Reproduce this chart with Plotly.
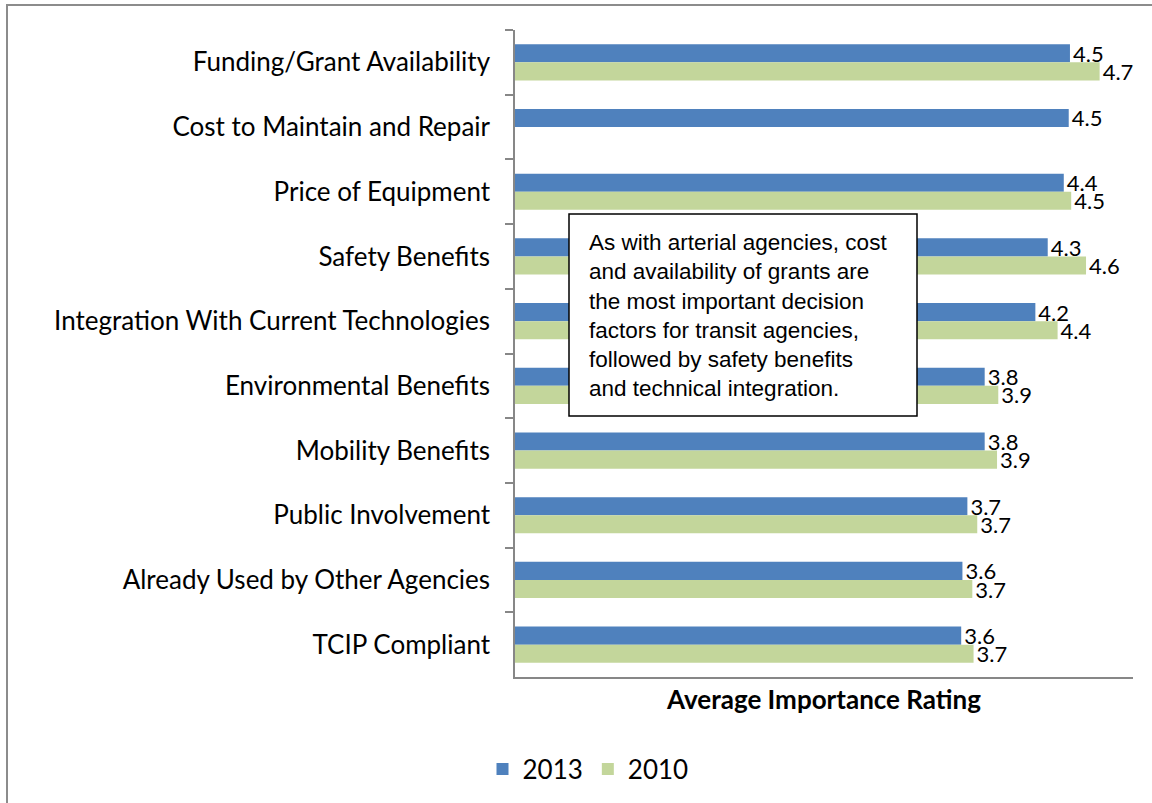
import plotly.graph_objects as go

categories = [
    "Funding/Grant Availability",
    "Cost to Maintain and Repair",
    "Price of Equipment",
    "Safety Benefits",
    "Integration With Current Technologies",
    "Environmental Benefits",
    "Mobility Benefits",
    "Public Involvement",
    "Already Used by Other Agencies",
    "TCIP Compliant",
]
values_2013 = [4.49, 4.48, 4.44, 4.31, 4.21, 3.80, 3.80, 3.66, 3.62, 3.61]
values_2010 = [4.73, None, 4.50, 4.62, 4.39, 3.91, 3.90, 3.74, 3.70, 3.71]

x_title = "Average Importance Rating"
note_text = ("As with arterial agencies, cost<br>and availability of grants are<br>"
             "the most important decision<br>factors for transit agencies,<br>"
             "followed by safety benefits<br>and technical integration.")

BLUE = "#4F81BD"
GREEN = "#C3D69B"
FONT = "Lato"

fig = go.Figure()
fig.add_trace(go.Bar(
    y=categories, x=values_2013, name="2013", orientation="h",
    marker=dict(color=BLUE, line=dict(width=0)),
    texttemplate="%{x:.1f}", textposition="outside", constraintext="none",
    textfont=dict(family=FONT, size=22, color="#000"), cliponaxis=False,
))
fig.add_trace(go.Bar(
    y=categories, x=values_2010, name="2010", orientation="h",
    marker=dict(color=GREEN, line=dict(width=0)),
    texttemplate="%{x:.1f}", textposition="outside", constraintext="none",
    textfont=dict(family=FONT, size=22, color="#000"), cliponaxis=False,
))

L, R, T, B = 515, 1133, 30, 677
W, H = 1152, 803
pw, ph = R - L, B - T

def px(x):
    return (x - L) / pw

def py(y):
    return (B - y) / ph

fig.update_layout(
    width=W, height=H,
    margin=dict(l=L, r=W - R, t=T, b=H - B, autoexpand=False),
    paper_bgcolor="white", plot_bgcolor="white",
    barmode="group", bargap=0.44, bargroupgap=0,
    font=dict(family=FONT, color="#000"),
    showlegend=True,
    legend=dict(orientation="h", xref="container", yref="container",
                x=588 / W, xanchor="center", y=(H - 769) / H, yanchor="middle",
                font=dict(family=FONT, size=26), traceorder="normal",
                itemwidth=30, bgcolor="rgba(0,0,0,0)"),
)
fig.update_yaxes(
    categoryorder="array", categoryarray=categories, autorange="reversed",
    showline=True, linecolor="#878787", linewidth=1.5,
    ticks="outside", tickson="boundaries", ticklen=8, tickcolor="#878787", tickwidth=1.5,
    ticklabelstandoff=18,
    tickfont=dict(family=FONT, size=26, color="#000"),
    showgrid=False, zeroline=False,
)
fig.update_xaxes(
    range=[0, 5], showticklabels=False, ticks="", showgrid=False, zeroline=False,
    showline=True, linecolor="#878787", linewidth=1.5,
    title=dict(text="<b>" + x_title + "</b>", font=dict(family=FONT, size=26, color="#000"),
               standoff=13),
)

# annotation box
fig.add_shape(type="rect", xref="paper", yref="paper",
              x0=px(569), x1=px(917), y0=py(416), y1=py(214),
              line=dict(color="#000", width=1.5), fillcolor="white", layer="above")
fig.add_annotation(xref="paper", yref="paper", x=px(587), y=py(316),
                   xanchor="left", yanchor="middle", align="left", showarrow=False,
                   text=note_text,
                   font=dict(family="Liberation Sans, Arial", size=22.5, color="#000"))

# outer chart-area border
fig.add_shape(type="rect", xref="paper", yref="paper",
              x0=px(7), x1=px(1165), y0=py(815), y1=py(5),
              line=dict(color="#8C8C8C", width=2), fillcolor="rgba(0,0,0,0)", layer="below")

fig.write_html("out.html", config={"displayModeBar": False},
               post_script="document.body.style.margin='0';")
